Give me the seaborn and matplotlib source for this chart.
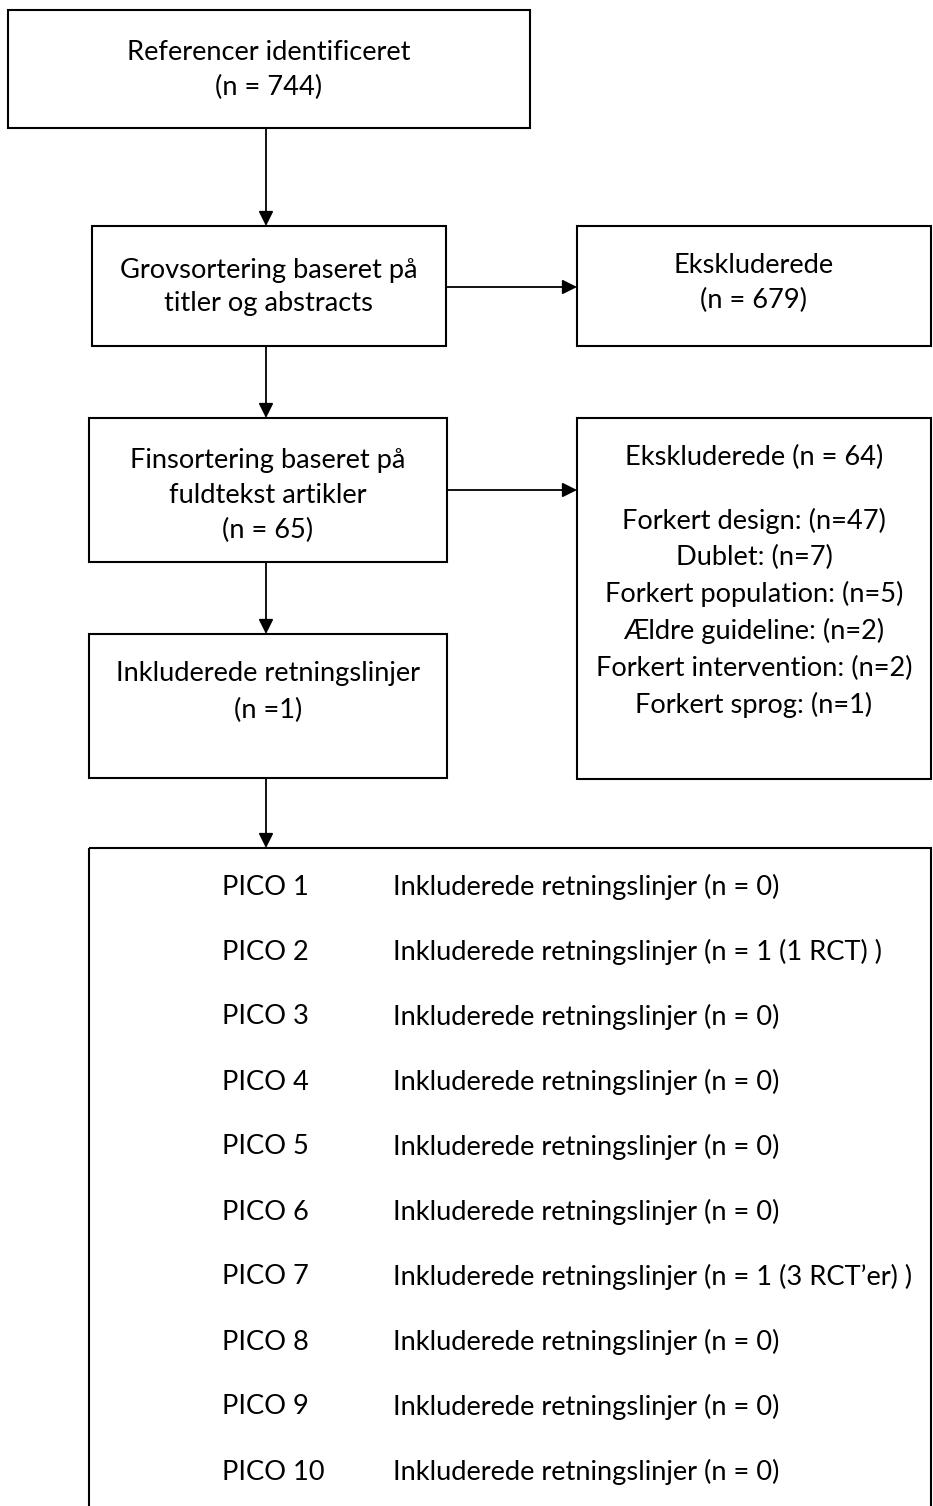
import matplotlib
matplotlib.use("Agg")
import matplotlib.pyplot as plt
from matplotlib.patches import Rectangle
import seaborn as sns

# ---------------- data ----------------
box_identified = ["Referencer identificeret", "(n = 744)"]
box_coarse = ["Grovsortering baseret på", "titler og abstracts"]
box_excl1 = ["Ekskluderede", "(n = 679)"]
box_fine = ["Finsortering baseret på", "fuldtekst artikler", "(n = 65)"]
box_excl2 = ["Ekskluderede (n = 64)", "", "Forkert design: (n=47)", "Dublet: (n=7)",
             "Forkert population: (n=5)", "Ældre guideline: (n=2)",
             "Forkert intervention: (n=2)", "Forkert sprog: (n=1)"]
box_included = ["Inkluderede retningslinjer", "(n =1)"]
pico_labels = ["PICO 1", "PICO 2", "PICO 3", "PICO 4", "PICO 5",
               "PICO 6", "PICO 7", "PICO 8", "PICO 9", "PICO 10"]
pico_text = ["Inkluderede retningslinjer (n = 0)",
             "Inkluderede retningslinjer (n = 1 (1 RCT) )",
             "Inkluderede retningslinjer (n = 0)",
             "Inkluderede retningslinjer (n = 0)",
             "Inkluderede retningslinjer (n = 0)",
             "Inkluderede retningslinjer (n = 0)",
             "Inkluderede retningslinjer (n = 1 (3 RCT’er) )",
             "Inkluderede retningslinjer (n = 0)",
             "Inkluderede retningslinjer (n = 0)",
             "Inkluderede retningslinjer (n = 0)"]

# ---------------- style ----------------
sns.set_theme(style="white")
plt.rcParams['font.family'] = ['Lato', 'DejaVu Sans']

W, H = 933, 1506
fig = plt.figure(figsize=(W / 100, H / 100), dpi=100)
ax = fig.add_axes([0, 0, 1, 1])
ax.set_xlim(0, W)
ax.set_ylim(H, 0)
ax.axis("off")

# auto-fit font size so that the reference string spans ~390 px
renderer = fig.canvas.get_renderer()
probe = ax.text(0, 0, "Inkluderede retningslinjer (n = 0)", fontsize=16)
wpx = probe.get_window_extent(renderer=renderer).width
probe.remove()
FS = 16 * 390.0 / wpx

LW = 1.5


def box(x0, y0, x1, y1):
    ax.add_patch(Rectangle((x0, y0), x1 - x0, y1 - y0, fill=False,
                           edgecolor="black", lw=LW, clip_on=False))


def lines(cx, ys, texts):
    for y, t in zip(ys, texts):
        if t:
            ax.text(cx, y, t, ha="center", va="center", fontsize=FS, color="black")


def arrow(x0, y0, x1, y1):
    ax.annotate("", xy=(x1, y1), xytext=(x0, y0),
                arrowprops=dict(arrowstyle="-|>", mutation_scale=22, lw=1.3,
                                color="black", shrinkA=0, shrinkB=0))


# boxes
box(8, 10, 530, 128)
lines(269, [52, 87], box_identified)

box(92, 226, 446, 346)
lines(269, [270, 303], box_coarse)

box(577, 226, 931, 346)
lines(754, [265, 300], box_excl1)

box(89, 418, 447, 562)
lines(268, [460, 495, 530], box_fine)

box(577, 418, 931, 779)
lines(754, [457, 488, 521, 557, 594, 631, 668, 705], box_excl2)

box(89, 634, 447, 778)
lines(268, [673, 710], box_included)

box(89, 848, 931, 1600)
for i, (lab, txt) in enumerate(zip(pico_labels, pico_text)):
    y = 887 + 65 * i
    ax.text(222, y, lab, ha="left", va="center", fontsize=FS, color="black")
    ax.text(393, y, txt, ha="left", va="center", fontsize=FS, color="black")

# arrows
arrow(266, 128, 266, 226)
arrow(266, 346, 266, 418)
arrow(266, 562, 266, 634)
arrow(266, 778, 266, 848)
arrow(446, 287, 577, 287)
arrow(447, 490, 577, 490)

fig.savefig("out.png", dpi=100, facecolor="white")
